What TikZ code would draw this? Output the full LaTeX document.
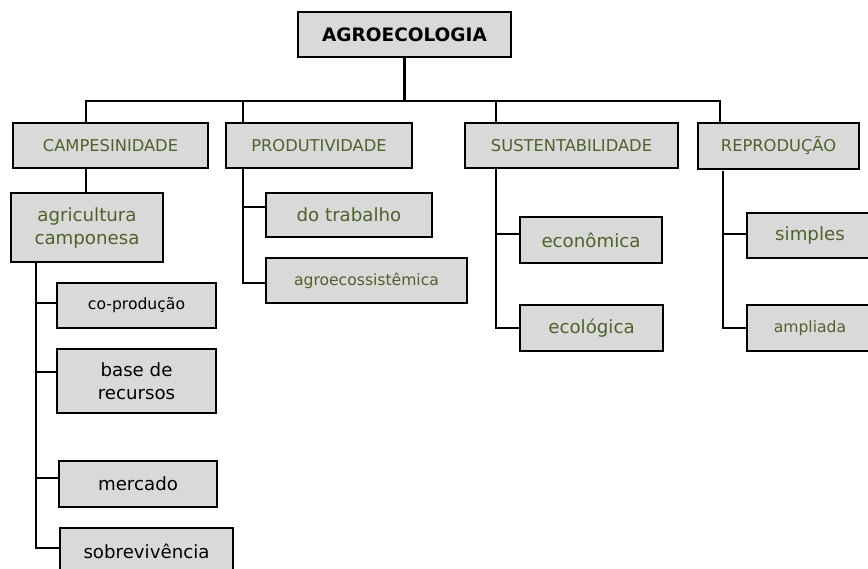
\documentclass[tikz,border=0pt]{standalone}
\usepackage{fontspec}
\setmainfont{DejaVu Sans}
\definecolor{boxgray}{HTML}{D9D9D9}
\definecolor{olive}{HTML}{4F6228}
\tikzset{
  box/.style={draw=black, line width=2.6pt, fill=boxgray, inner sep=0pt, align=center, anchor=center},
  gtext/.style={text=olive},
  ktext/.style={text=black},
  conn/.style={line width=2.6pt, line cap=rect},
  fA/.style={font=\fontsize{18.5}{22}\selectfont\bfseries},
  fB/.style={font=\fontsize{16.3}{20}\selectfont},
  fC/.style={font=\fontsize{18.2}{23}\selectfont},
  fD/.style={font=\fontsize{15.6}{19}\selectfont}
}
\begin{document}
\begin{tikzpicture}[x=1pt,y=-1pt]
\useasboundingbox (0,0) rectangle (868,569);
% nodes
\node[box,fA,minimum width=213pt,minimum height=45pt] (agro) at (404.5,34.5) {AGROECOLOGIA};
\node[box,fB,gtext,minimum width=195pt,minimum height=45pt] (camp) at (110.5,145.5) {CAMPESINIDADE};
\node[box,fB,gtext,minimum width=186pt,minimum height=45pt] (prod) at (319,145.5) {PRODUTIVIDADE};
\node[box,fB,gtext,minimum width=213pt,minimum height=45pt] (sust) at (571.5,145.5) {SUSTENTABILIDADE};
\node[box,fB,gtext,minimum width=161pt,minimum height=46pt] (repr) at (778.5,146) {REPRODUÇÃO};
\node[box,fC,gtext,minimum width=152pt,minimum height=69pt] (agri) at (87,227.5) {agricultura\\camponesa};
\node[box,fC,gtext,minimum width=166pt,minimum height=44pt] (trab) at (349,215) {do trabalho};
\node[box,fD,gtext,minimum width=201pt,minimum height=45pt] (agroe) at (366.5,280.5) {agroecossistêmica};
\node[box,fC,gtext,minimum width=142pt,minimum height=46pt] (econ) at (591,240) {econômica};
\node[box,fC,gtext,minimum width=143pt,minimum height=46pt] (ecol) at (591.5,328) {ecológica};
\node[box,fC,gtext,minimum width=126pt,minimum height=45pt] (simp) at (810,235.5) {simples};
\node[box,fD,gtext,minimum width=126pt,minimum height=46pt] (ampl) at (810,328) {ampliada};
\node[box,fD,ktext,minimum width=159pt,minimum height=45pt] (cop) at (136.5,305.5) {co-produção};
\node[box,fC,ktext,minimum width=159pt,minimum height=64pt] (base) at (136.5,381) {base de\\recursos};
\node[box,fC,ktext,minimum width=158pt,minimum height=46pt] (merc) at (138,484) {mercado};
\node[box,fC,ktext,minimum width=173pt,minimum height=46pt] (sobr) at (146.5,551) {sobrevivência};
% bus
\coordinate (busL) at (86,101);
\coordinate (busR) at (720,101);
\draw[conn] (agro.south) -- (agro.south |- busL);
\draw[conn] (busL) -- (busR);
\draw[conn] (busL) -- (busL |- camp.north);
\draw[conn] (243,101) -- (243,123);
\draw[conn] (496,101) -- (496,123);
\draw[conn] (busR) -- (busR |- repr.north);
% campesinidade
\draw[conn] (camp.south -| busL) -- (agri.north -| busL);
\coordinate (tA) at (36,262);
\draw[conn] (tA) |- ([yshift=2.5pt]cop.west);
\draw[conn] (tA) |- ([yshift=9pt]base.west);
\draw[conn] (tA) |- ([yshift=6pt]merc.west);
\draw[conn] (tA) |- ([yshift=3pt]sobr.west);
% produtividade
\coordinate (tP) at (243,168);
\draw[conn] (tP) |- ([yshift=8pt]trab.west);
\draw[conn] (tP) |- ([yshift=-2.5pt]agroe.west);
% sustentabilidade
\coordinate (tS) at (496,168);
\draw[conn] (tS) |- ([yshift=6pt]econ.west);
\draw[conn] (tS) |- (ecol.west);
% reproducao
\coordinate (tR) at (723,172);
\draw[conn] (tR) |- ([yshift=1.5pt]simp.west);
\draw[conn] (tR) |- (ampl.west);
\end{tikzpicture}
\end{document}
